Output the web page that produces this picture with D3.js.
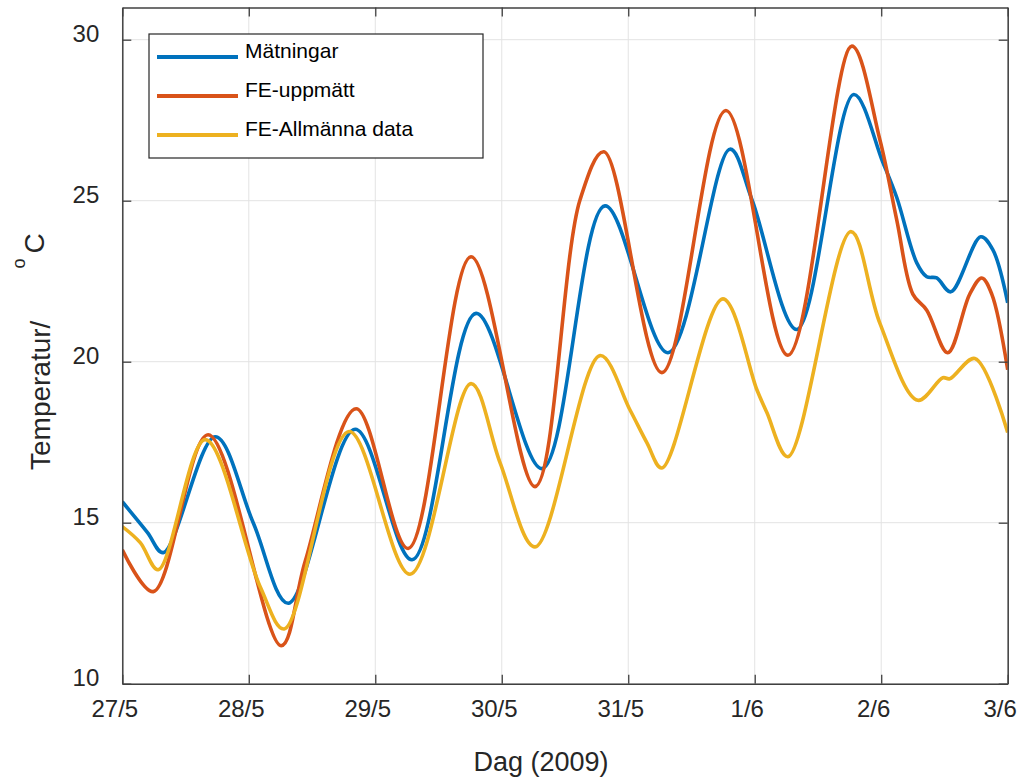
<!DOCTYPE html>
<html>
<head>
<meta charset="utf-8">
<script src="https://cdn.jsdelivr.net/npm/d3@7"></script>
<style>
  body { margin: 0; background: #fff; }
  svg { display: block; font-family: "Liberation Sans", Arial, Helvetica, sans-serif; }
  .axis path, .axis line { stroke: #404040; }
  .axis text { fill: #262626; font-size: 24px; }
</style>
</head>
<body>
<svg width="1023" height="779"></svg>
<script>
var width = 1023;
var height = 779;

// dagar efter 27/5 0:00
var xTickValues = [0, 1, 2, 3, 4, 5, 6, 7];
var xTickLabels = ["27/5", "28/5", "29/5", "30/5", "31/5", "1/6", "2/6", "3/6"];
var yTickValues = [10, 15, 20, 25, 30];

var seriesNames = ["Mätningar", "FE-uppmätt", "FE-Allmänna data"];
var seriesColors = ["#0072BD", "#D95319", "#EDB120"];

var matDag  = [0, 0.198, 0.324, 0.735, 1.035, 1.312, 1.841, 2.291, 2.797, 3.318, 3.816, 4.314, 4.804, 4.978, 5.333, 5.783, 6.012, 6.123, 6.281, 6.360, 6.439, 6.550, 6.787, 6.882, 7.0];
var matTemp = [15.65, 14.70, 14.07, 17.67, 15.0, 12.50, 17.90, 13.85, 21.50, 16.68, 24.84, 20.28, 26.60, 25.03, 21.00, 28.30, 26.20, 25.10, 23.07, 22.64, 22.60, 22.17, 23.88, 23.48, 21.83];

var feuDag  = [0, 0.245, 0.679, 1.256, 1.446, 1.849, 2.260, 2.757, 3.263, 3.619, 3.808, 4.266, 4.772, 5.262, 5.768, 5.989, 6.123, 6.250, 6.360, 6.526, 6.700, 6.795, 6.874, 7.0];
var feuTemp = [14.16, 12.86, 17.73, 11.18, 13.80, 18.54, 14.20, 23.26, 16.12, 25.03, 26.52, 19.66, 27.80, 20.20, 29.80, 26.90, 24.40, 22.10, 21.60, 20.28, 22.10, 22.60, 22.10, 19.75];

var feaDag  = [0, 0.142, 0.284, 0.656, 1.090, 1.280, 1.793, 2.275, 2.757, 2.987, 3.263, 3.777, 4.014, 4.148, 4.266, 4.748, 5.017, 5.096, 5.262, 5.760, 5.989, 6.289, 6.487, 6.542, 6.740, 7.0];
var feaTemp = [14.88, 14.38, 13.54, 17.58, 13.01, 11.70, 17.83, 13.40, 19.32, 16.86, 14.25, 20.19, 18.50, 17.48, 16.70, 21.95, 19.13, 18.42, 17.05, 24.04, 21.20, 18.80, 19.50, 19.47, 20.10, 17.80];

var series = [
  { name: seriesNames[0], color: seriesColors[0], dag: matDag, temp: matTemp },
  { name: seriesNames[1], color: seriesColors[1], dag: feuDag, temp: feuTemp },
  { name: seriesNames[2], color: seriesColors[2], dag: feaDag, temp: feaTemp }
];

var pLeft = 122.3, pRight = 1007.7, pTop = 7.5, pBottom = 683.7;

var x = d3.scaleLinear().domain([0, 7]).range([pLeft, pRight]);
var y = d3.scaleLinear().domain([10, 31]).range([pBottom, pTop]);

var svg = d3.select("svg");

svg.append("clipPath").attr("id", "clip")
  .append("rect")
  .attr("x", pLeft).attr("y", pTop)
  .attr("width", pRight - pLeft).attr("height", pBottom - pTop);

// grid
var grid = svg.append("g");
grid.selectAll(".gx").data(xTickValues).enter().append("line")
  .attr("x1", function (d) { return x(d); })
  .attr("x2", function (d) { return x(d); })
  .attr("y1", pTop).attr("y2", pBottom)
  .style("stroke", "#e3e3e3").style("stroke-width", 1);
grid.selectAll(".gy").data(yTickValues).enter().append("line")
  .attr("x1", pLeft).attr("x2", pRight)
  .attr("y1", function (d) { return y(d); })
  .attr("y2", function (d) { return y(d); })
  .style("stroke", "#e3e3e3").style("stroke-width", 1);

// lines
var line = d3.line()
  .x(function (d) { return x(d[0]); })
  .y(function (d) { return y(d[1]); })
  .curve(d3.curveCatmullRom.alpha(0.5));

svg.append("g").attr("clip-path", "url(#clip)")
  .selectAll("path").data(series).enter().append("path")
  .attr("d", function (s) { return line(d3.zip(s.dag, s.temp)); })
  .style("fill", "none")
  .style("stroke", function (s) { return s.color; })
  .style("stroke-width", 3.6)
  .style("stroke-linejoin", "round");

// axes
var xAxis = svg.append("g").attr("class", "axis")
  .attr("transform", "translate(0," + pBottom + ")")
  .call(d3.axisBottom(x).tickValues(xTickValues).tickSize(-9).tickSizeOuter(0)
    .tickFormat(function (d, i) { return xTickLabels[i]; }));
xAxis.selectAll("text").attr("y", 33).attr("dy", 0).attr("dx", -8);

svg.append("g").attr("class", "axis")
  .attr("transform", "translate(0," + pTop + ")")
  .call(d3.axisTop(x).tickValues(xTickValues).tickSize(-9).tickSizeOuter(0).tickFormat(""));

var yAxis = svg.append("g").attr("class", "axis")
  .attr("transform", "translate(" + pLeft + ",0)")
  .call(d3.axisLeft(y).tickValues(yTickValues).tickSize(-9).tickSizeOuter(0).tickPadding(23));
yAxis.selectAll("text").attr("dy", 2);

svg.append("g").attr("class", "axis")
  .attr("transform", "translate(" + pRight + ",0)")
  .call(d3.axisRight(y).tickValues(yTickValues).tickSize(-9).tickSizeOuter(0).tickFormat(""));

svg.selectAll(".axis path").style("stroke-width", 1.5);
svg.selectAll(".axis line").style("stroke-width", 1.3);

// labels
svg.append("text")
  .attr("x", 541).attr("y", 771)
  .attr("text-anchor", "middle")
  .style("font-size", "27px").style("fill", "#262626")
  .text("Dag (2009)");

var yl = svg.append("text")
  .attr("transform", "translate(50,470) rotate(-90)")
  .style("font-size", "28px").style("fill", "#262626");
yl.append("tspan").text("Temperatur/");
yl.append("tspan").attr("dx", 52).attr("dy", -25).style("font-size", "18px").text("o");
yl.append("tspan").attr("dx", 5).attr("dy", 19).text("C");

// legend
var lg = svg.append("g");
lg.append("rect")
  .attr("x", 149).attr("y", 34).attr("width", 334).attr("height", 124)
  .style("fill", "#fff").style("stroke", "#262626").style("stroke-width", 1.2);
var rows = lg.selectAll(".row").data(series).enter().append("g")
  .attr("transform", function (d, i) { return "translate(0," + (57 + i * 39) + ")"; });
rows.append("line")
  .attr("x1", 157).attr("x2", 238).attr("y1", 0).attr("y2", 0)
  .style("stroke", function (d) { return d.color; })
  .style("stroke-width", 4);
rows.append("text")
  .attr("x", 245).attr("y", 1)
  .style("font-size", "21px").style("fill", "#000")
  .text(function (d) { return d.name; });
</script>
</body>
</html>
